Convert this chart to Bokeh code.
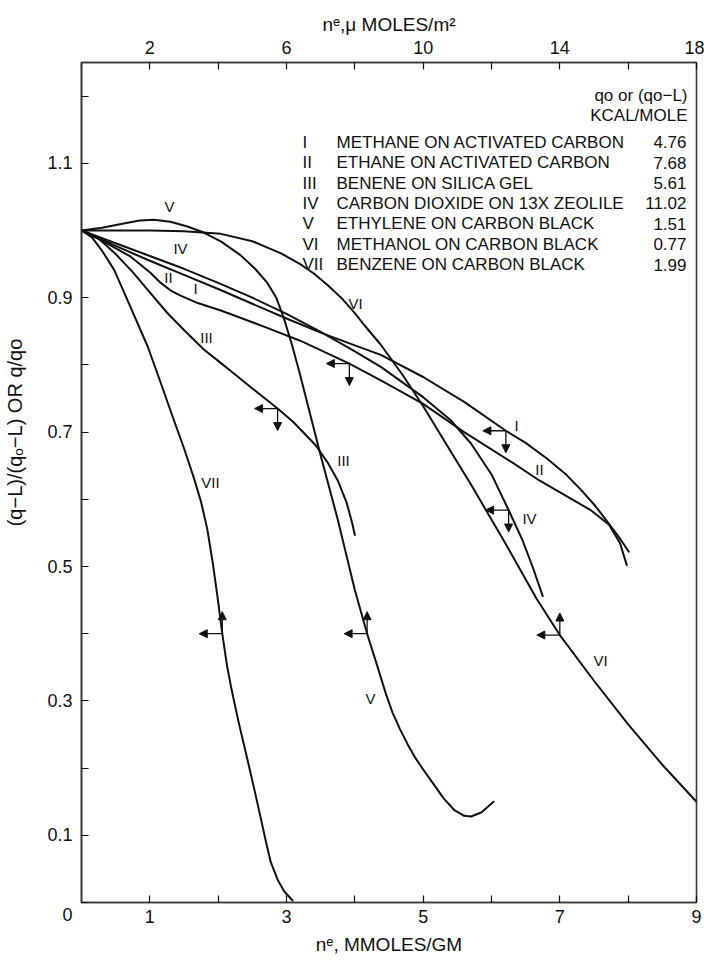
from bokeh.plotting import figure
from bokeh.models import Range1d, LinearAxis, FixedTicker, Label, Arrow, NormalHead
from bokeh.embed import file_html
from bokeh.resources import INLINE

# ---------------- data: n^e (mmol/g) vs (q-L)/(qo-L) or q/qo ----------------
curve_I_x = [0, 0.5, 1.0, 1.5, 2.0, 2.5, 3.0, 3.5, 4.0, 4.38, 5.0, 5.6, 6.21, 6.5, 6.82, 7.1, 7.31, 7.52, 7.70, 7.87, 8.01]
curve_I_y = [1.0, 0.977, 0.955, 0.934, 0.913, 0.891, 0.869, 0.848, 0.829, 0.815, 0.782, 0.745, 0.702, 0.684, 0.66,
             0.636, 0.614, 0.59, 0.566, 0.543, 0.522]

curve_II_x = [0, 0.3, 0.72, 1.0, 1.16, 1.3, 1.45, 1.7, 2.04, 2.67, 3.2, 3.92, 4.38, 5.0, 5.6, 6.33, 6.7, 7.11, 7.45,
              7.72, 7.88, 7.98]
curve_II_y = [1.0, 0.985, 0.961, 0.938, 0.922, 0.911, 0.903, 0.892, 0.881, 0.857, 0.836, 0.802, 0.777, 0.742, 0.70,
              0.653, 0.628, 0.604, 0.584, 0.562, 0.535, 0.502]

curve_III_x = [0, 0.25, 0.5, 0.75, 1.0, 1.25, 1.5, 1.79, 2.0, 2.28, 2.5, 2.87, 3.1, 3.43, 3.6, 3.75, 3.88, 3.96, 4.0]
curve_III_y = [1.0, 0.988, 0.965, 0.938, 0.908, 0.878, 0.852, 0.823, 0.806, 0.783, 0.765, 0.735, 0.715, 0.68, 0.655,
               0.628, 0.595, 0.565, 0.547]

curve_IV_x = [0, 0.5, 1.0, 1.5, 2.0, 2.5, 3.0, 3.5, 4.0, 4.38, 5.0, 5.4, 5.7, 6.0, 6.25, 6.45, 6.6, 6.75]
curve_IV_y = [1.0, 0.981, 0.962, 0.943, 0.922, 0.9, 0.876, 0.849, 0.82, 0.797, 0.752, 0.718, 0.683, 0.637, 0.584,
              0.54, 0.5, 0.456]

curve_V_x = [0, 0.3, 0.6, 0.85, 1.06, 1.3, 1.55, 1.79, 2.05, 2.33, 2.55, 2.72, 2.85, 2.96, 3.08, 3.2, 3.35, 3.5,
             3.75, 4.0, 4.18, 4.35, 4.45, 4.55, 4.66, 4.77, 4.88, 5.0, 5.16, 5.3, 5.45, 5.6, 5.7, 5.85, 6.03]
curve_V_y = [1.0, 1.004, 1.010, 1.015, 1.016, 1.013, 1.006, 0.997, 0.983, 0.963, 0.942, 0.922, 0.9, 0.87, 0.83, 0.785,
             0.725, 0.665, 0.57, 0.465, 0.40, 0.345, 0.312, 0.283, 0.258, 0.236, 0.216, 0.198, 0.175, 0.155, 0.138,
             0.129, 0.128, 0.134, 0.150]

curve_VI_x = [0, 0.5, 1.0, 1.5, 2.04, 2.5, 2.92, 3.2, 3.4, 3.6, 3.8, 4.0, 4.14, 4.38, 4.7, 5.01, 5.35, 5.7, 6.2, 6.66,
              7.0, 7.5, 8.0, 8.5, 9.0]
curve_VI_y = [1.0, 1.0, 1.0, 0.999, 0.995, 0.984, 0.966, 0.95, 0.936, 0.919, 0.9, 0.877, 0.859, 0.83, 0.785, 0.737,
              0.68, 0.622, 0.535, 0.452, 0.398, 0.33, 0.265, 0.205, 0.15]

curve_VII_x = [0, 0.15, 0.3, 0.48, 0.7, 0.97, 1.15, 1.33, 1.5, 1.65, 1.75, 1.84, 1.92, 1.99, 2.06, 2.13, 2.2, 2.3,
               2.43, 2.53, 2.62, 2.7, 2.77, 2.87, 2.97, 3.09]
curve_VII_y = [1.0, 0.99, 0.97, 0.941, 0.89, 0.827, 0.776, 0.724, 0.676, 0.63, 0.596, 0.556, 0.506, 0.455, 0.40,
               0.352, 0.315, 0.268, 0.212, 0.168, 0.127, 0.09, 0.06, 0.034, 0.016, 0.003]

# points marked by the arrow pairs on each curve
marker_x = [6.21, 3.92, 2.87, 6.25, 4.18, 7.0, 2.06]
marker_y = [0.702, 0.802, 0.735, 0.584, 0.40, 0.398, 0.40]
marker_up = [False, False, False, False, True, True, True]

numerals = ["I", "II", "III", "IV", "V", "VI", "VII"]
systems = ["METHANE ON ACTIVATED CARBON", "ETHANE ON ACTIVATED CARBON", "BENENE ON SILICA GEL",
           "CARBON DIOXIDE ON 13X ZEOLILE", "ETHYLENE ON CARBON BLACK", "METHANOL ON CARBON BLACK",
           "BENZENE ON CARBON BLACK"]
heats = ["4.76", "7.68", "5.61", "11.02", "1.51", "0.77", "1.99"]

bottom_ticks = [1, 3, 5, 7, 9]
top_ticks = [2, 6, 10, 14, 18]
left_ticks = [0, 0.1, 0.3, 0.5, 0.7, 0.9, 1.1]

# ---------------- layout ----------------
W, H = 704, 961
LEFT, RIGHT, TOP, BOTTOM = 81, 8, 62, 59
X0, X1, Y0, Y1 = 0, 9, 0, 1.25
PX_X = (W - LEFT - RIGHT) / (X1 - X0)
PX_Y = (H - TOP - BOTTOM) / (Y1 - Y0)
FONT = "Liberation Sans"
INK = "#111111"
FRAME = "#3a3a3a"
NBSP = "\u00a0"


def at(px, py):
    """canvas pixel position -> data coordinates (used for text placement)"""
    return X0 + (px - LEFT) / PX_X, Y0 + (H - BOTTOM - py) / PX_Y


p = figure(width=W, height=H, x_range=Range1d(X0, X1), y_range=Range1d(Y0, Y1),
           output_backend="svg", toolbar_location=None,
           min_border_left=LEFT, min_border_right=RIGHT, min_border_top=TOP, min_border_bottom=BOTTOM)
p.grid.visible = False
p.outline_line_color = FRAME
p.outline_line_width = 1.6
p.background_fill_color = "white"
p.border_fill_color = "white"

bottom_axis = p.below[0]
left_axis = p.left[0]
p.extra_x_ranges = {"area": Range1d(2 * X0, 2 * X1)}
top_axis = LinearAxis(x_range_name="area")
p.add_layout(top_axis, "above")


def style_axis(ax, major, minor, title, label_standoff, title_standoff, title_size="19px"):
    ax.ticker = FixedTicker(ticks=major, minor_ticks=minor)
    ax.axis_line_color = FRAME
    ax.axis_line_width = 1.6
    ax.major_tick_in = 7
    ax.major_tick_out = 0
    ax.minor_tick_in = 7
    ax.minor_tick_out = 0
    ax.major_tick_line_color = INK
    ax.minor_tick_line_color = INK
    ax.major_tick_line_width = 1.2
    ax.minor_tick_line_width = 1.2
    ax.major_label_text_font = FONT
    ax.major_label_text_font_size = "18px"
    ax.major_label_text_color = INK
    ax.major_label_standoff = label_standoff
    ax.axis_label = title
    ax.axis_label_text_font = FONT
    ax.axis_label_text_font_size = title_size
    ax.axis_label_text_font_style = "normal"
    ax.axis_label_text_color = INK
    ax.axis_label_standoff = title_standoff


style_axis(bottom_axis, bottom_ticks, [2, 4, 6, 8], "n\u1d49, MMOLES/GM", 7, 8)
style_axis(top_axis, top_ticks, [0, 4, 8, 12, 16], "n\u1d49,\u03bc MOLES/m\u00b2", 9, 3)
# the vertical title sits a little above the middle of the frame
style_axis(left_axis, left_ticks, [0.2, 0.4, 0.6, 0.8, 1.0, 1.2],
           NBSP * 18 + "(q\u2212L)/(q\u2092\u2212L) OR q/qo", 9, 18, title_size="20px")
# the origin value sits just below the corner of the frame
left_axis.major_label_overrides = {0: "\n0"}

# curves
curves = [(curve_I_x, curve_I_y), (curve_II_x, curve_II_y), (curve_III_x, curve_III_y),
          (curve_IV_x, curve_IV_y), (curve_V_x, curve_V_y), (curve_VI_x, curve_VI_y),
          (curve_VII_x, curve_VII_y)]
for xs, ys in curves:
    p.line(xs, ys, line_color=INK, line_width=2.0, line_join="round", line_cap="round")

# arrow pairs: one pointing left, one pointing down or up
HLEN, VLEN = 23 / PX_X, 22 / PX_Y
for mx, my, up in zip(marker_x, marker_y, marker_up):
    p.add_layout(Arrow(x_start=mx, y_start=my, x_end=mx - HLEN, y_end=my, line_color=INK, line_width=1.3,
                       end=NormalHead(size=8, fill_color=INK, line_color=INK, line_width=1)))
    p.add_layout(Arrow(x_start=mx, y_start=my, x_end=mx, y_end=my + (VLEN if up else -VLEN),
                       line_color=INK, line_width=1.3,
                       end=NormalHead(size=8, fill_color=INK, line_color=INK, line_width=1)))


def text(px, py, s, size="15px", align="center"):
    x, y = at(px, py)
    p.add_layout(Label(x=x, y=y, text=s, text_font=FONT, text_font_size=size, text_color=INK,
                       text_align=align, text_baseline="middle"))


# curve tags
tag_pos = [("V", 169, 206), ("IV", 180, 248), ("II", 168, 277), ("I", 195, 288), ("III", 206, 337),
           ("VI", 355, 303), ("III", 343, 460), ("VII", 210, 482), ("V", 370, 698), ("I", 516, 425),
           ("II", 539, 469), ("IV", 529, 518), ("VI", 600, 660)]
for s, px, py in tag_pos:
    text(px, py, s)

# legend block
text(687, 95, "qo or (qo\u2212L)", size="17px", align="right")
text(687, 115, "KCAL/MOLE", size="17px", align="right")
for i, (n, s, h) in enumerate(zip(numerals, systems, heats)):
    row = 141.7 + i * 20.4
    text(302, row, n, size="17px", align="left")
    text(336, row, s, size="17px", align="left")
    text(686, row, h, size="17px", align="right")

open("out.html", "w").write(file_html(p, INLINE))
